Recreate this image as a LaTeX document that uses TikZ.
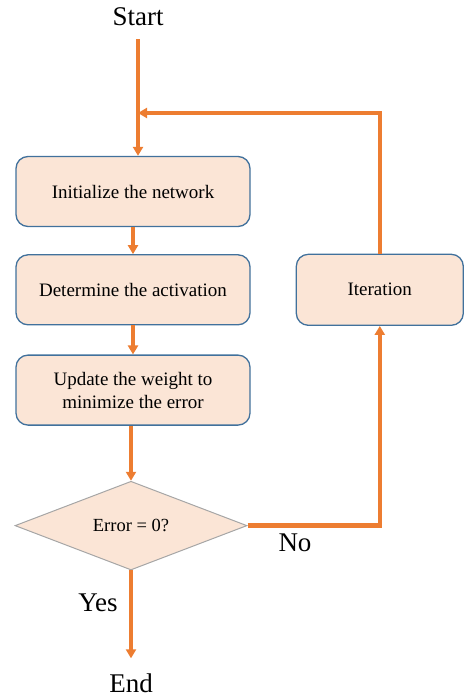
\documentclass[tikz,border=0pt]{standalone}
\usepackage{fontspec}
\setmainfont{Liberation Serif}
\definecolor{FlowOrange}{HTML}{ED7D31}
\definecolor{BoxFill}{HTML}{FBE5D6}
\definecolor{BoxBlue}{HTML}{41719C}
\definecolor{EdgeGray}{HTML}{A6A6A6}
\usetikzlibrary{shapes.geometric, arrows.meta, positioning}
\tikzset{
  stepbox/.style={rectangle, rounded corners=12pt, draw=BoxBlue, line width=1.3pt, fill=BoxFill, minimum width=234pt, minimum height=70pt, font=\fontsize{19}{23}\selectfont, align=center},
  iterbox/.style={stepbox, minimum width=167pt, minimum height=71pt},
  decisionbox/.style={diamond, draw=EdgeGray, line width=1pt, fill=BoxFill, inner sep=0pt, minimum width=232pt, minimum height=83pt, font=\fontsize{18.5}{22}\selectfont},
  termtext/.style={inner sep=2pt, font=\fontsize{27}{30}\selectfont},
  flowarrow/.style={-{Triangle[width=10pt,length=9pt]}, line width=3.5pt, FlowOrange}
}
\begin{document}
\begin{tikzpicture}[x=1pt, y=-1pt, node distance=28pt]
  \useasboundingbox (0,0) rectangle (463,698);

  % Terminals
  \node[termtext] (start) at (138,17) {Start};
  \node[termtext] (end) at (131,683) {End};

  % Steps
  \node[stepbox] (init) at (133,191.5) {Initialize the network};
  \node[stepbox, below=27pt of init] (act) {Determine the activation};
  \node[stepbox, below=29pt of act] (upd) {Update the weight to\\minimize the error};
  \node[iterbox, right=45pt of act] (iter) {Iteration};
  \node[decisionbox, below=55pt of upd, xshift=-2pt] (dec) {Error = 0?};
  \coordinate (loopin) at (138,113);

  % Arrows
  \draw[flowarrow, shorten <=11pt] (start.south) -- (start.south |- init.north);
  \draw[flowarrow] (iter.north) |- (loopin);
  \draw[flowarrow] (init.south) -- (act.north);
  \draw[flowarrow] (act.south) -- (upd.north);
  \draw[flowarrow] (upd.south -| dec.north) -- (dec.north);
  \draw[flowarrow, line width=4.5pt] (dec.east) -| (iter.south);
  \draw[flowarrow, shorten >=13pt] (dec.south) -- (end.north);

  % Branch labels
  \node[termtext] (yes) at (98,603) {Yes};
  \node[termtext] (no) at (295,543) {No};
\end{tikzpicture}
\end{document}
